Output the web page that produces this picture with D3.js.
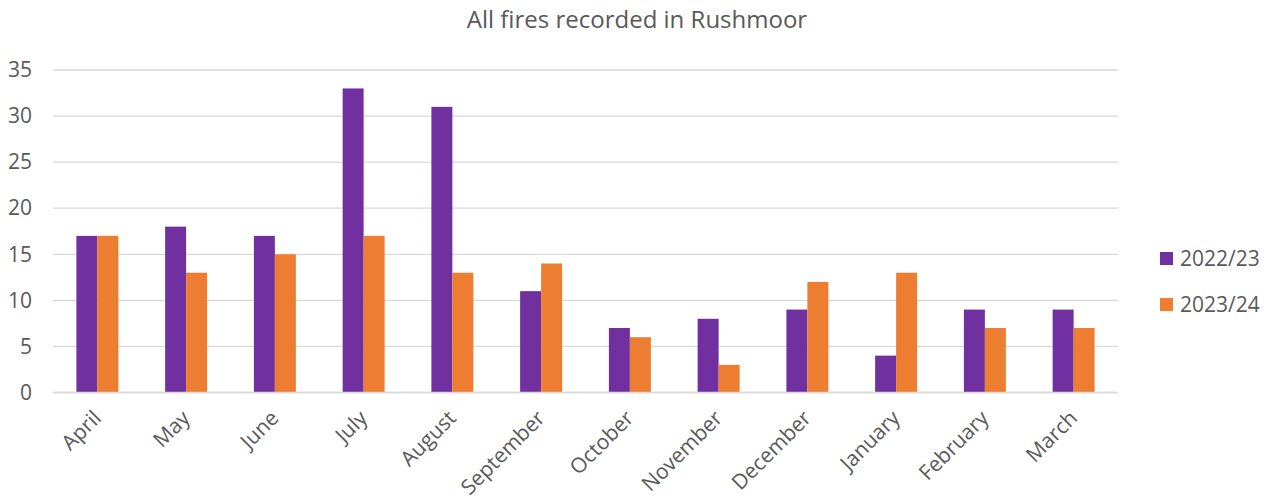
<!DOCTYPE html>
<html>
<head>
<meta charset="utf-8">
<script src="https://cdn.jsdelivr.net/npm/d3@7"></script>
<style>
  body { margin: 0; background: #fff; }
  text { font-family: "Open Sans", sans-serif; fill: #595959; }
</style>
</head>
<body>
<svg id="chart" width="1271" height="502"></svg>
<script>
// Monthly fire counts, April to March
const months = ["April", "May", "June", "July", "August", "September",
  "October", "November", "December", "January", "February", "March"];
const seriesNames = ["2022/23", "2023/24"];
const fires2022 = [17, 18, 17, 33, 31, 11, 7, 8, 9, 4, 9, 9];
const fires2023 = [17, 13, 15, 17, 13, 14, 6, 3, 12, 13, 7, 7];
const yTicks = [0, 5, 10, 15, 20, 25, 30, 35];
const colors = ["#7030A0", "#ED7D31"];

const svg = d3.select("#chart");
const plotLeft = 53, plotRight = 1118, plotTop = 70, plotBottom = 392.5;
const labelSize = "21px";

const x = d3.scaleBand().domain(months).range([plotLeft, plotRight])
  .paddingInner(0.527).paddingOuter(0.2635);
const xs = d3.scaleBand().domain(seriesNames).range([0, x.bandwidth()]);
const y = d3.scaleLinear().domain([0, 35]).range([plotBottom, plotTop]);

// Title
svg.append("text").attr("x", 637).attr("y", 28)
  .attr("text-anchor", "middle").style("font-size", "24px")
  .text("All fires recorded in Rushmoor");

// Gridlines
svg.append("g").selectAll("line").data(yTicks).join("line")
  .attr("x1", plotLeft).attr("x2", plotRight)
  .attr("y1", d => y(d)).attr("y2", d => y(d))
  .attr("stroke", "#d9d9d9").attr("stroke-width", 1.3);

// Y axis labels
const yAxis = svg.append("g").attr("transform", `translate(${plotLeft},0)`)
  .call(d3.axisLeft(y).tickValues(yTicks).tickSize(0).tickPadding(21));
yAxis.select(".domain").remove();
yAxis.selectAll("text").style("font-size", labelSize).attr("fill", "#595959")
  .style("font-family", "'Open Sans', sans-serif");

// Bars
const rows = months.map((m, i) => ({ month: m, values: [fires2022[i], fires2023[i]] }));
const groups = svg.append("g").selectAll("g").data(rows).join("g")
  .attr("transform", d => `translate(${x(d.month)},0)`);
groups.selectAll("rect")
  .data(d => d.values.map((v, j) => ({ series: seriesNames[j], value: v, j })))
  .join("rect")
  .attr("x", d => xs(d.series))
  .attr("width", xs.bandwidth())
  .attr("y", d => y(d.value))
  .attr("height", d => y(0) - y(d.value))
  .attr("fill", d => colors[d.j]);

// Baseline
svg.append("line").attr("x1", plotLeft).attr("x2", plotRight)
  .attr("y1", y(0)).attr("y2", y(0))
  .attr("stroke", "#d9d9d9").attr("stroke-width", 1.5);

// X axis labels, rotated
const xAxis = svg.append("g").attr("transform", `translate(0,${plotBottom})`)
  .call(d3.axisBottom(x).tickSize(0).tickPadding(0));
xAxis.select(".domain").remove();
xAxis.selectAll("text")
  .style("font-size", labelSize).attr("fill", "#595959")
  .style("font-family", "'Open Sans', sans-serif")
  .attr("text-anchor", "end")
  .attr("dy", null).attr("y", 0)
  .attr("transform", "translate(5,27) rotate(-45)");

// Legend
const legend = svg.append("g").selectAll("g").data(seriesNames).join("g")
  .attr("transform", (d, i) => `translate(1160,${252 + i * 46})`);
legend.append("rect").attr("width", 13).attr("height", 13)
  .attr("fill", (d, i) => colors[i]);
legend.append("text").attr("x", 20).attr("y", 7).attr("dy", "0.35em")
  .style("font-size", labelSize).text(d => d);
</script>
</body>
</html>
